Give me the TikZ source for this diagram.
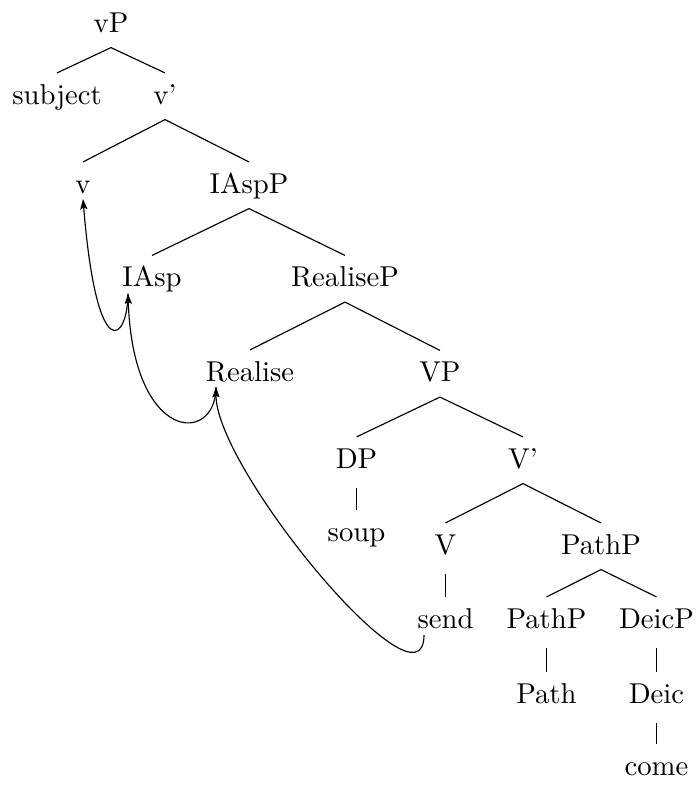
\documentclass[tikz,border=0pt]{standalone}
\usetikzlibrary{calc,arrows.meta}
\begin{document}
\begin{tikzpicture}[x=0.3484pt,y=-0.3484pt,
  tn/.style={anchor=base,inner xsep=1pt,inner ysep=3.13pt,text height=7.5pt,text depth=2.1pt},
  br/.style={line width=0.4pt},
  un/.style={line width=0.4pt,shorten <=1.6pt},
  mv/.style={line width=0.4pt,-{Stealth[length=3.6pt,width=2.5pt,inset=0.6pt]}}]
\useasboundingbox (0,0) rectangle (696,785);
% nodes
\node[tn] (vP) at (111,32) {vP};
\node[tn] (subj) at (57,104) {subject};
\node[tn] (vbar) at (165,104) {v'};
\node[tn] (v) at (83,193) {v};
\node[tn] (IAspP) at (249,193) {IAspP};
\node[tn] (IAsp) at (152,286.5) {IAsp};
\node[tn] (RealiseP) at (345,286.5) {RealiseP};
\node[tn] (Realise) at (250,381) {Realise};
\node[tn] (VP) at (440,381.5) {VP};
\node[tn] (DP) at (356.5,468) {DP};
\node[tn] (Vbar) at (523,468) {V'};
\node[tn] (soup) at (356.5,541) {soup};
\node[tn] (V) at (445.5,554) {V};
\node[tn] (PathP) at (601,554) {PathP};
\node[tn] (send) at (445.5,628) {send};
\node[tn] (PathPb) at (546.5,628) {PathP};
\node[tn] (DeicP) at (656.5,628) {DeicP};
\node[tn] (Path) at (546.5,703) {Path};
\node[tn] (Deic) at (656.5,703) {Deic};
\node[tn] (come) at (656.5,775) {come};
% branches
\draw[br] (vP.south) -- (subj.north);
\draw[br] (vP.south) -- (vbar.north);
\draw[br] (vbar.south) -- (v.north);
\draw[br] (vbar.south) -- (IAspP.north);
\draw[br] (IAspP.south) -- (IAsp.north);
\draw[br] (IAspP.south) -- (RealiseP.north);
\draw[br] (RealiseP.south) -- (Realise.north);
\draw[br] (RealiseP.south) -- (VP.north);
\draw[br] (VP.south) -- (DP.north);
\draw[br] (VP.south) -- (Vbar.north);
\draw[un] (DP.south) -- (soup.north);
\draw[br] (Vbar.south) -- (V.north);
\draw[br] (Vbar.south) -- (PathP.north);
\draw[un] (V.south) -- (send.north);
\draw[br] (PathP.south) -- (PathPb.north);
\draw[br] (PathP.south) -- (DeicP.north);
\draw[un] (PathPb.south) -- (Path.north);
\draw[un] (DeicP.south) -- (Deic.north);
\draw[un] (Deic.south) -- (come.north);
% movement arrows
\coordinate (vT) at ($(v.base)+(0,6)$);
\coordinate (IAspT) at ($(IAsp.base)+(-24,7)$);
\coordinate (RealiseT) at ($(Realise.base)+(-34,6)$);
\coordinate (sendT) at ($(send.base)+(-21.5,7)$);
\draw[mv] (IAspT) .. controls +(0,47) and +(14,171) .. (vT);
\draw[mv] (RealiseT) .. controls +(0,58) and +(5,150) .. (IAspT);
\draw[mv] (sendT) .. controls +(0,85) and +(0,83) .. (RealiseT);
\end{tikzpicture}
\end{document}
